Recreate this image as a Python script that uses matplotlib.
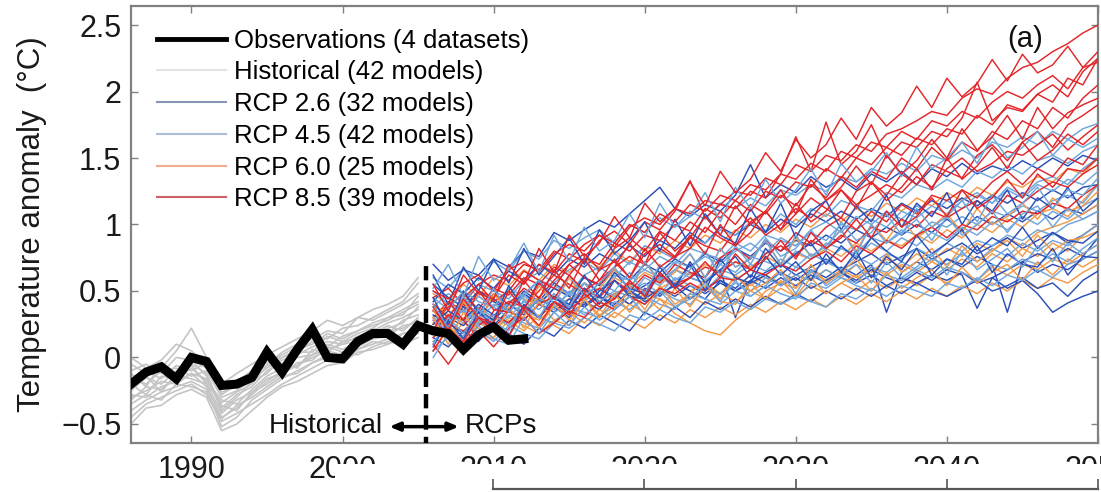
import matplotlib
matplotlib.use("Agg")
import matplotlib.pyplot as plt
from matplotlib.lines import Line2D
from matplotlib.patches import Rectangle

plt.rcParams['font.family'] = ['Liberation Sans', 'DejaVu Sans']

# ---------------- data ----------------
obs_years = list(range(1986, 2013))
obs_values = [-0.20, -0.11, -0.07, -0.16, 0.00, -0.03, -0.21, -0.20, -0.15, 0.04,
              -0.11, 0.06, 0.21, 0.00, -0.01, 0.12, 0.18, 0.18, 0.10, 0.24,
              0.20, 0.18, 0.06, 0.17, 0.23, 0.13, 0.14]

hist_years = list(range(1986, 2006))
hist_runs = [
    [-0.30, -0.25, -0.18, -0.20, -0.12, -0.22, -0.45, -0.38, -0.28, -0.18, -0.10, -0.06, 0.00, 0.05, 0.02, 0.10, 0.15, 0.20, 0.22, 0.28],
    [-0.15, -0.20, -0.10, -0.08, -0.14, -0.10, -0.30, -0.25, -0.16, -0.08, -0.02, 0.02, 0.08, 0.12, 0.10, 0.16, 0.20, 0.26, 0.30, 0.36],
    [-0.40, -0.32, -0.26, -0.22, -0.18, -0.24, -0.52, -0.45, -0.32, -0.24, -0.16, -0.10, -0.04, 0.00, -0.02, 0.06, 0.10, 0.14, 0.18, 0.22],
    [-0.05, -0.12, -0.08, 0.05, 0.22, 0.00, -0.22, -0.18, -0.10, -0.04, 0.02, 0.08, 0.14, 0.20, 0.18, 0.30, 0.28, 0.34, 0.40, 0.48],
    [-0.25, -0.15, -0.20, -0.10, -0.05, -0.12, -0.38, -0.28, -0.22, -0.10, -0.04, -0.08, 0.06, 0.04, 0.12, 0.14, 0.22, 0.18, 0.28, 0.32],
    [-0.45, -0.35, -0.30, -0.25, -0.20, -0.28, -0.48, -0.42, -0.35, -0.28, -0.20, -0.14, -0.08, -0.02, 0.04, 0.02, 0.08, 0.12, 0.10, 0.15],
    [-0.20, -0.28, -0.14, -0.16, -0.08, -0.18, -0.32, -0.35, -0.24, -0.14, -0.08, 0.00, 0.02, 0.10, 0.06, 0.12, 0.18, 0.24, 0.20, 0.30],
    [-0.10, -0.05, -0.12, 0.00, -0.02, -0.08, -0.26, -0.22, -0.12, -0.06, 0.04, 0.10, 0.16, 0.14, 0.22, 0.24, 0.30, 0.36, 0.42, 0.56],
    [-0.32, -0.22, -0.24, -0.14, -0.16, -0.20, -0.42, -0.32, -0.26, -0.16, -0.12, -0.04, -0.02, 0.08, 0.04, 0.08, 0.14, 0.16, 0.24, 0.26],
    [-0.50, -0.38, -0.36, -0.28, -0.24, -0.30, -0.55, -0.50, -0.40, -0.30, -0.22, -0.18, -0.12, -0.06, -0.04, 0.04, 0.06, 0.10, 0.14, 0.18],
    [-0.18, -0.10, -0.16, -0.06, -0.10, -0.04, -0.28, -0.20, -0.14, -0.02, 0.00, 0.06, 0.10, 0.18, 0.14, 0.20, 0.26, 0.30, 0.36, 0.42],
    [-0.28, -0.30, -0.22, -0.18, -0.12, -0.16, -0.36, -0.40, -0.26, -0.20, -0.12, -0.06, 0.02, 0.06, 0.10, 0.12, 0.20, 0.22, 0.26, 0.38],
    [0.00, -0.08, -0.02, 0.10, 0.05, -0.05, -0.20, -0.12, -0.05, 0.02, 0.08, 0.14, 0.20, 0.28, 0.24, 0.30, 0.36, 0.40, 0.46, 0.60],
    [-0.35, -0.28, -0.32, -0.20, -0.22, -0.26, -0.46, -0.36, -0.30, -0.22, -0.14, -0.12, -0.04, 0.02, 0.00, 0.06, 0.12, 0.10, 0.18, 0.20],
    [-0.22, -0.14, -0.26, -0.12, -0.02, -0.14, -0.40, -0.30, -0.18, -0.12, 0.00, 0.04, 0.12, 0.08, 0.16, 0.20, 0.24, 0.28, 0.34, 0.40],
    [-0.12, -0.22, -0.05, -0.14, -0.06, -0.20, -0.34, -0.26, -0.20, -0.06, -0.06, 0.04, 0.04, 0.16, 0.12, 0.18, 0.22, 0.30, 0.32, 0.46],
]

rcp_years = list(range(2006, 2051))

rcp26_runs = [
    [0.70, 0.58, 0.66, 0.62, 0.74, 0.68, 0.80, 0.76, 0.94, 0.88, 0.96, 1.03, 0.98, 1.08, 1.18,
     1.28, 1.12, 1.06, 1.15, 1.10, 1.22, 1.45, 1.20, 1.30, 1.24, 1.36, 1.28, 1.34, 1.26, 1.38,
     1.32, 1.40, 1.30, 1.42, 1.36, 1.46, 1.38, 1.44, 1.40, 1.48, 1.42, 1.50, 1.44, 1.52, 1.48],
    [0.42, 0.55, 0.48, 0.60, 0.52, 0.65, 0.58, 0.70, 0.62, 0.74, 0.68, 0.78, 0.72, 0.84, 0.76,
     0.88, 0.82, 0.94, 0.86, 0.98, 0.92, 1.00, 0.94, 1.04, 0.98, 1.08, 1.02, 1.10, 1.04, 1.12,
     1.06, 1.16, 1.10, 1.18, 1.12, 1.20, 1.14, 1.22, 1.16, 1.24, 1.18, 1.26, 1.20, 1.28, 1.30],
    [0.32, 0.25, 0.38, 0.30, 0.44, 0.36, 0.50, 0.42, 0.56, 0.48, 0.60, 0.54, 0.66, 0.58, 0.70,
     0.64, 0.74, 0.68, 0.78, 0.72, 0.82, 0.76, 0.86, 0.80, 0.88, 0.84, 0.92, 0.86, 0.96, 0.90,
     0.98, 0.92, 1.00, 0.94, 1.04, 0.96, 1.06, 1.00, 1.08, 1.02, 1.10, 1.04, 1.12, 1.08, 1.15],
    [0.55, 0.45, 0.38, 0.50, 0.42, 0.35, 0.48, 0.40, 0.52, 0.46, 0.38, 0.50, 0.58, 0.48, 0.54,
     0.62, 0.52, 0.60, 0.56, 0.66, 0.30, 0.58, 0.64, 0.70, 0.62, 0.68, 0.74, 0.66, 0.72, 0.78,
     0.70, 0.76, 0.82, 0.74, 0.80, 0.86, 0.78, 0.84, 0.90, 0.82, 0.88, 0.94, 0.86, 0.92, 1.00],
    [0.20, 0.30, 0.24, 0.36, 0.28, 0.40, 0.32, 0.44, 0.38, 0.30, 0.42, 0.36, 0.48, 0.40, 0.52,
     0.46, 0.56, 0.50, 0.44, 0.58, 0.52, 0.62, 0.56, 0.64, 0.58, 0.66, 0.60, 0.68, 0.62, 0.70,
     0.34, 0.64, 0.72, 0.66, 0.74, 0.68, 0.76, 0.70, 0.34, 0.72, 0.78, 0.74, 0.82, 0.76, 0.90],
    [0.35, 0.26, 0.18, 0.30, 0.24, 0.36, 0.28, 0.40, 0.34, 0.44, 0.38, 0.46, 0.40, 0.50, 0.44,
     0.52, 0.46, 0.54, 0.48, 0.56, 0.50, 0.58, 0.52, 0.60, 0.54, 0.62, 0.56, 0.64, 0.58, 0.66,
     0.60, 0.56, 0.64, 0.58, 0.66, 0.62, 0.37, 0.60, 0.66, 0.72, 0.64, 0.70, 0.66, 0.74, 0.80],
    [0.15, 0.08, 0.20, 0.12, 0.25, 0.18, 0.10, 0.22, 0.16, 0.28, 0.22, 0.32, 0.26, 0.20, 0.34,
     0.28, 0.38, 0.30, 0.42, 0.36, 0.44, 0.38, 0.46, 0.40, 0.48, 0.42, 0.50, 0.44, 0.52, 0.46,
     0.54, 0.48, 0.56, 0.50, 0.46, 0.52, 0.58, 0.50, 0.54, 0.60, 0.52, 0.56, 0.46, 0.58, 0.65],
    [0.25, 0.35, 0.28, 0.40, 0.32, 0.26, 0.38, 0.30, 0.42, 0.34, 0.40, 0.46, 0.38, 0.50, 0.42,
     0.48, 0.54, 0.44, 0.52, 0.58, 0.50, 0.56, 0.62, 0.54, 0.60, 0.52, 0.58, 0.64, 0.56, 0.62,
     0.54, 0.60, 0.56, 0.62, 0.58, 0.64, 0.56, 0.60, 0.52, 0.58, 0.48, 0.34, 0.41, 0.46, 0.50],
    [0.62, 0.40, 0.68, 0.50, 0.74, 0.56, 0.82, 0.62, 0.76, 0.90, 0.70, 0.96, 0.78, 0.88, 1.02,
     0.80, 1.04, 0.84, 1.08, 0.92, 0.86, 1.12, 0.94, 1.16, 0.90, 1.10, 1.18, 0.96, 1.14, 1.02,
     1.22, 0.98, 1.16, 1.06, 1.24, 1.00, 1.18, 1.10, 1.26, 1.04, 1.20, 1.12, 1.28, 1.10, 1.20],
    [0.08, 0.28, 0.14, 0.34, 0.24, 0.16, 0.40, 0.30, 0.46, 0.36, 0.52, 0.40, 0.58, 0.46, 0.44,
     0.64, 0.52, 0.72, 0.56, 0.66, 0.76, 0.60, 0.82, 0.68, 0.78, 0.86, 0.70, 0.84, 0.74, 0.90,
     0.80, 0.72, 0.92, 0.78, 0.86, 0.96, 0.80, 0.90, 0.84, 0.98, 0.82, 0.94, 0.88, 0.86, 0.95],
    [0.45, 0.22, 0.50, 0.34, 0.28, 0.54, 0.36, 0.58, 0.44, 0.40, 0.62, 0.46, 0.64, 0.52, 0.48,
     0.68, 0.54, 0.70, 0.50, 0.74, 0.60, 0.56, 0.76, 0.62, 0.72, 0.58, 0.78, 0.64, 0.80, 0.60,
     0.76, 0.66, 0.82, 0.62, 0.74, 0.70, 0.84, 0.64, 0.78, 0.70, 0.68, 0.82, 0.62, 0.76, 0.75],
]

rcp45_runs = [
    [0.60, 0.52, 0.66, 0.58, 0.72, 0.65, 0.80, 0.74, 0.88, 0.82, 0.90, 0.96, 0.86, 1.00, 0.94,
     1.05, 0.98, 1.10, 1.04, 1.16, 1.12, 1.20, 1.14, 1.26, 1.22, 1.30, 1.25, 1.36, 1.32, 1.42,
     1.38, 1.46, 1.40, 1.52, 1.48, 1.56, 1.50, 1.62, 1.58, 1.66, 1.60, 1.70, 1.64, 1.72, 1.76],
    [0.38, 0.48, 0.42, 0.55, 0.50, 0.44, 0.58, 0.64, 0.56, 0.66, 0.72, 0.65, 0.78, 0.70, 0.84,
     0.80, 0.74, 0.90, 0.86, 0.96, 0.92, 1.02, 0.95, 1.08, 1.00, 1.12, 1.06, 1.18, 1.14, 1.10,
     1.24, 1.20, 1.30, 1.26, 1.34, 1.28, 1.40, 1.35, 1.44, 1.38, 1.48, 1.52, 1.46, 1.55, 1.60],
    [0.22, 0.32, 0.26, 0.38, 0.30, 0.42, 0.48, 0.40, 0.52, 0.46, 0.56, 0.50, 0.62, 0.58, 0.66,
     0.60, 0.72, 0.68, 0.76, 0.70, 0.80, 0.86, 0.78, 0.90, 0.84, 0.94, 0.88, 1.00, 0.96, 1.04,
     0.98, 1.10, 1.05, 1.14, 1.08, 1.18, 1.24, 1.16, 1.28, 1.22, 1.32, 1.36, 1.30, 1.42, 1.50],
    [0.45, 0.36, 0.50, 0.42, 0.38, 0.52, 0.46, 0.58, 0.54, 0.48, 0.62, 0.68, 0.60, 0.72, 0.66,
     0.76, 0.70, 0.82, 0.78, 0.74, 0.86, 0.80, 0.92, 0.88, 0.84, 0.96, 1.02, 0.94, 1.06, 1.00,
     1.10, 1.04, 1.14, 1.08, 1.18, 1.12, 1.22, 1.16, 1.26, 1.20, 1.30, 1.25, 1.34, 1.30, 1.40],
    [0.30, 0.24, 0.36, 0.28, 0.40, 0.34, 0.46, 0.40, 0.36, 0.50, 0.44, 0.56, 0.50, 0.46, 0.60,
     0.54, 0.66, 0.60, 0.56, 0.70, 0.64, 0.76, 0.72, 0.68, 0.80, 0.74, 0.86, 0.82, 0.78, 0.90,
     0.86, 0.96, 0.92, 1.02, 0.98, 1.06, 1.00, 1.10, 1.06, 1.14, 1.10, 1.18, 1.22, 1.16, 1.30],
    [0.18, 0.28, 0.35, 0.25, 0.32, 0.40, 0.34, 0.44, 0.38, 0.48, 0.42, 0.52, 0.46, 0.56, 0.50,
     0.60, 0.54, 0.64, 0.58, 0.66, 0.62, 0.70, 0.65, 0.74, 0.68, 0.78, 0.72, 0.82, 0.76, 0.86,
     0.80, 0.90, 0.84, 0.94, 0.88, 0.98, 0.92, 1.02, 0.96, 1.06, 1.00, 1.10, 1.04, 1.14, 1.20],
    [0.50, 0.40, 0.34, 0.46, 0.38, 0.30, 0.42, 0.36, 0.48, 0.40, 0.52, 0.45, 0.38, 0.50, 0.56,
     0.48, 0.60, 0.54, 0.50, 0.62, 0.58, 0.66, 0.60, 0.55, 0.68, 0.64, 0.72, 0.66, 0.76, 0.70,
     0.78, 0.74, 0.82, 0.76, 0.86, 0.80, 0.88, 0.84, 0.92, 0.88, 0.96, 0.92, 1.00, 1.04, 1.10],
    [0.12, 0.22, 0.16, 0.28, 0.20, 0.32, 0.26, 0.22, 0.34, 0.40, 0.32, 0.42, 0.36, 0.46, 0.40,
     0.50, 0.44, 0.40, 0.52, 0.48, 0.56, 0.50, 0.60, 0.54, 0.62, 0.58, 0.66, 0.60, 0.56, 0.68,
     0.64, 0.72, 0.66, 0.74, 0.70, 0.78, 0.72, 0.82, 0.76, 0.86, 0.80, 0.88, 0.84, 0.92, 1.00],
    [0.28, 0.20, 0.14, 0.26, 0.32, 0.24, 0.36, 0.30, 0.26, 0.38, 0.34, 0.30, 0.42, 0.36, 0.46,
     0.40, 0.36, 0.48, 0.44, 0.40, 0.50, 0.46, 0.54, 0.48, 0.44, 0.56, 0.52, 0.60, 0.54, 0.50,
     0.62, 0.58, 0.66, 0.60, 0.68, 0.64, 0.58, 0.70, 0.66, 0.74, 0.70, 0.78, 0.72, 0.82, 0.90],
    [0.05, 0.15, 0.08, 0.20, 0.12, 0.24, 0.18, 0.14, 0.26, 0.22, 0.30, 0.25, 0.20, 0.32, 0.28,
     0.36, 0.30, 0.26, 0.38, 0.34, 0.42, 0.36, 0.44, 0.40, 0.46, 0.42, 0.38, 0.48, 0.44, 0.52,
     0.46, 0.54, 0.50, 0.46, 0.56, 0.52, 0.60, 0.54, 0.62, 0.58, 0.66, 0.60, 0.70, 0.74, 0.80],
    [0.52, 0.70, 0.46, 0.76, 0.58, 0.66, 0.86, 0.64, 0.92, 0.72, 0.98, 0.80, 0.88, 1.08, 0.90,
     1.16, 0.98, 1.06, 1.24, 1.02, 1.28, 1.12, 1.34, 1.16, 1.26, 1.42, 1.22, 1.46, 1.32, 1.40,
     1.54, 1.36, 1.58, 1.42, 1.50, 1.62, 1.46, 1.66, 1.50, 1.58, 1.70, 1.52, 1.64, 1.58, 1.65],
    [0.10, 0.30, 0.18, 0.36, 0.26, 0.20, 0.44, 0.30, 0.48, 0.38, 0.56, 0.42, 0.50, 0.64, 0.48,
     0.70, 0.58, 0.66, 0.80, 0.62, 0.84, 0.70, 0.90, 0.76, 0.82, 0.96, 0.80, 1.02, 0.88, 0.94,
     1.08, 0.92, 1.12, 0.98, 1.06, 1.18, 1.02, 1.22, 1.08, 1.16, 1.28, 1.12, 1.26, 1.22, 1.35],
    [0.40, 0.22, 0.46, 0.30, 0.52, 0.34, 0.48, 0.58, 0.40, 0.62, 0.46, 0.56, 0.68, 0.50, 0.72,
     0.58, 0.66, 0.78, 0.60, 0.82, 0.68, 0.74, 0.88, 0.70, 0.92, 0.76, 0.84, 0.96, 0.78, 1.00,
     0.86, 0.94, 1.04, 0.88, 1.06, 0.92, 1.00, 1.10, 0.94, 1.08, 1.14, 0.98, 1.12, 1.04, 1.10],
    [0.00, 0.18, 0.06, 0.24, 0.14, 0.10, 0.30, 0.18, 0.34, 0.24, 0.38, 0.28, 0.36, 0.46, 0.32,
     0.50, 0.38, 0.44, 0.56, 0.42, 0.58, 0.46, 0.54, 0.64, 0.48, 0.66, 0.54, 0.62, 0.70, 0.56,
     0.72, 0.60, 0.68, 0.78, 0.62, 0.80, 0.66, 0.74, 0.82, 0.68, 0.84, 0.72, 0.86, 0.78, 0.85],
]

rcp60_runs = [
    [0.48, 0.40, 0.55, 0.46, 0.60, 0.54, 0.66, 0.58, 0.70, 0.64, 0.74, 0.68, 0.80, 0.72, 0.84,
     0.78, 0.88, 0.82, 0.92, 0.86, 0.96, 0.90, 1.00, 0.94, 1.04, 0.98, 1.08, 1.02, 1.12, 1.06,
     1.16, 1.10, 1.20, 1.14, 1.24, 1.18, 1.28, 1.22, 1.32, 1.28, 1.36, 1.32, 1.42, 1.38, 1.50],
    [0.30, 0.40, 0.34, 0.46, 0.38, 0.50, 0.44, 0.40, 0.52, 0.48, 0.56, 0.50, 0.60, 0.54, 0.64,
     0.58, 0.66, 0.62, 0.70, 0.64, 0.72, 0.68, 0.76, 0.70, 0.78, 0.74, 0.82, 0.76, 0.86, 0.80,
     0.88, 0.84, 0.92, 0.86, 0.96, 0.90, 1.00, 0.94, 1.04, 0.98, 1.08, 1.12, 1.06, 1.18, 1.30],
    [0.22, 0.14, 0.26, 0.18, 0.30, 0.24, 0.34, 0.28, 0.38, 0.32, 0.42, 0.36, 0.46, 0.40, 0.48,
     0.44, 0.33, 0.26, 0.20, 0.17, 0.28, 0.37, 0.50, 0.56, 0.62, 0.58, 0.66, 0.60, 0.70, 0.64,
     0.74, 0.68, 0.78, 0.72, 0.82, 0.76, 0.86, 0.80, 0.90, 0.84, 0.94, 0.98, 1.02, 1.08, 1.15],
    [0.40, 0.32, 0.44, 0.36, 0.28, 0.40, 0.34, 0.46, 0.38, 0.44, 0.50, 0.42, 0.48, 0.54, 0.46,
     0.52, 0.58, 0.50, 0.56, 0.48, 0.60, 0.54, 0.62, 0.56, 0.52, 0.64, 0.58, 0.66, 0.60, 0.68,
     0.62, 0.70, 0.64, 0.72, 0.66, 0.74, 0.68, 0.78, 0.72, 0.82, 0.76, 0.86, 0.80, 0.92, 1.00],
    [0.12, 0.22, 0.16, 0.26, 0.20, 0.30, 0.24, 0.18, 0.28, 0.34, 0.26, 0.36, 0.30, 0.40, 0.34,
     0.44, 0.38, 0.46, 0.40, 0.48, 0.42, 0.50, 0.44, 0.52, 0.46, 0.54, 0.48, 0.56, 0.50, 0.58,
     0.52, 0.60, 0.54, 0.62, 0.56, 0.64, 0.58, 0.68, 0.62, 0.70, 0.66, 0.74, 0.70, 0.78, 0.85],
    [0.26, 0.18, 0.30, 0.22, 0.15, 0.28, 0.20, 0.32, 0.24, 0.18, 0.30, 0.24, 0.34, 0.28, 0.22,
     0.32, 0.26, 0.36, 0.30, 0.38, 0.32, 0.40, 0.34, 0.42, 0.36, 0.44, 0.38, 0.46, 0.40, 0.48,
     0.42, 0.50, 0.44, 0.52, 0.46, 0.54, 0.48, 0.56, 0.50, 0.58, 0.52, 0.60, 0.56, 0.64, 0.70],
    [0.36, 0.18, 0.42, 0.26, 0.48, 0.34, 0.30, 0.54, 0.40, 0.60, 0.44, 0.52, 0.66, 0.50, 0.72,
     0.56, 0.64, 0.78, 0.60, 0.82, 0.68, 0.74, 0.88, 0.70, 0.90, 0.76, 0.84, 0.96, 0.80, 1.00,
     0.88, 1.04, 0.90, 0.98, 1.08, 0.94, 1.12, 1.00, 1.06, 1.16, 1.04, 1.20, 1.10, 1.14, 1.25],
    [0.05, 0.24, 0.12, 0.30, 0.20, 0.16, 0.36, 0.22, 0.40, 0.28, 0.44, 0.32, 0.38, 0.50, 0.36,
     0.54, 0.40, 0.48, 0.58, 0.44, 0.62, 0.50, 0.56, 0.66, 0.52, 0.70, 0.56, 0.64, 0.74, 0.60,
     0.78, 0.64, 0.72, 0.82, 0.68, 0.84, 0.72, 0.80, 0.88, 0.76, 0.92, 0.80, 0.88, 0.90, 0.95],
    [0.30, 0.10, 0.34, 0.18, 0.14, 0.38, 0.22, 0.42, 0.28, 0.24, 0.44, 0.30, 0.48, 0.34, 0.46,
     0.36, 0.52, 0.38, 0.54, 0.42, 0.40, 0.56, 0.44, 0.58, 0.46, 0.60, 0.48, 0.56, 0.62, 0.50,
     0.64, 0.52, 0.60, 0.66, 0.54, 0.68, 0.56, 0.64, 0.70, 0.58, 0.72, 0.62, 0.74, 0.68, 0.75],
]

rcp85_runs = [
    [0.45, 0.52, 0.40, 0.55, 0.62, 0.58, 0.70, 0.66, 0.80, 0.74, 0.85, 0.92, 0.83, 0.98, 1.05,
     1.00, 1.12, 1.08, 1.18, 1.15, 1.25, 1.22, 1.35, 1.30, 1.45, 1.40, 1.52, 1.48, 1.60, 1.55,
     1.68, 1.72, 1.78, 1.85, 1.82, 1.95, 2.02, 1.98, 2.10, 2.18, 2.22, 2.30, 2.36, 2.44, 2.50],
    [0.30, 0.42, 0.35, 0.50, 0.45, 0.62, 0.55, 0.70, 0.64, 0.78, 0.72, 0.88, 0.95, 0.85, 1.02,
     0.96, 1.10, 1.33, 1.05, 1.15, 1.12, 1.25, 1.20, 1.38, 1.66, 1.40, 1.77, 1.45, 1.55, 1.75,
     1.50, 1.62, 1.58, 1.70, 1.66, 1.80, 2.07, 1.78, 1.88, 1.85, 1.98, 1.92, 2.10, 2.05, 2.25],
    [0.25, 0.38, 0.48, 0.36, 0.52, 0.47, 0.60, 0.55, 0.68, 0.62, 0.75, 0.70, 0.86, 0.80, 0.92,
     0.88, 1.00, 0.95, 1.12, 1.05, 1.18, 1.10, 1.25, 1.20, 1.32, 1.28, 1.42, 1.35, 1.50, 1.45,
     1.58, 1.52, 1.65, 1.60, 1.72, 1.68, 1.82, 1.75, 1.90, 1.86, 1.98, 2.05, 1.96, 2.15, 2.25],
    [0.40, 0.30, 0.45, 0.55, 0.42, 0.50, 0.65, 0.58, 0.52, 0.70, 0.78, 0.66, 0.82, 0.90, 0.80,
     0.95, 0.88, 1.02, 0.94, 1.10, 1.00, 1.15, 1.08, 1.22, 1.14, 1.30, 1.20, 1.36, 1.28, 1.40,
     1.34, 1.50, 1.42, 1.58, 1.48, 1.62, 1.55, 1.70, 1.64, 1.78, 1.72, 1.88, 1.80, 1.95, 2.05],
    [0.20, 0.32, 0.28, 0.15, 0.35, 0.42, 0.38, 0.50, 0.62, 0.55, 0.48, 0.66, 0.72, 0.60, 0.78,
     0.85, 0.76, 0.82, 0.98, 0.90, 0.84, 1.02, 1.10, 0.96, 1.08, 1.20, 1.12, 1.05, 1.25, 1.32,
     1.22, 1.38, 1.30, 1.45, 1.40, 1.35, 1.52, 1.60, 1.48, 1.62, 1.70, 1.58, 1.75, 1.82, 1.90],
    [0.35, 0.28, 0.40, 0.33, 0.48, 0.40, 0.52, 0.45, 0.58, 0.70, 0.60, 0.55, 0.68, 0.76, 0.70,
     0.82, 0.75, 0.90, 0.84, 0.80, 0.95, 1.05, 0.92, 1.00, 1.12, 1.05, 1.18, 1.26, 1.15, 1.22,
     1.30, 1.24, 1.36, 1.28, 1.42, 1.50, 1.40, 1.46, 1.55, 1.52, 1.60, 1.68, 1.56, 1.66, 1.75],
    [0.15, 0.25, 0.20, 0.30, 0.22, 0.35, 0.28, 0.40, 0.46, 0.38, 0.52, 0.45, 0.58, 0.50, 0.62,
     0.56, 0.70, 0.64, 0.60, 0.75, 0.82, 0.74, 0.88, 0.80, 0.94, 0.86, 0.98, 1.05, 0.96, 1.10,
     1.02, 1.15, 1.08, 1.22, 1.18, 1.26, 1.20, 1.32, 1.40, 1.30, 1.42, 1.36, 1.50, 1.45, 1.60],
    [0.28, 0.18, 0.10, 0.24, 0.32, 0.26, 0.38, 0.30, 0.42, 0.36, 0.45, 0.52, 0.44, 0.56, 0.50,
     0.62, 0.55, 0.60, 0.68, 0.64, 0.72, 0.66, 0.78, 0.84, 0.76, 0.88, 0.82, 0.92, 0.86, 0.98,
     0.94, 1.04, 0.98, 1.10, 1.05, 1.12, 1.18, 1.08, 1.22, 1.16, 1.25, 1.32, 1.28, 1.38, 1.45],
    [0.50, 0.44, 0.56, 0.62, 0.50, 0.66, 0.72, 0.64, 0.78, 0.85, 0.80, 0.92, 0.86, 1.00, 0.94,
     1.08, 1.02, 1.15, 1.10, 1.22, 1.18, 1.30, 1.26, 1.38, 1.34, 1.46, 1.40, 1.55, 1.50, 1.62,
     1.58, 1.70, 1.64, 1.78, 1.74, 1.85, 1.80, 1.92, 2.00, 1.95, 2.05, 2.12, 2.02, 2.18, 2.22],
    [0.10, -0.05, 0.12, 0.20, 0.08, 0.22, 0.30, 0.18, 0.26, 0.35, 0.30, 0.42, 0.36, 0.46, 0.40,
     0.52, 0.48, 0.56, 0.50, 0.60, 0.58, 0.66, 0.62, 0.70, 0.65, 0.74, 0.80, 0.72, 0.84, 0.78,
     0.88, 0.82, 0.92, 0.98, 0.90, 1.00, 0.96, 1.06, 1.02, 1.10, 1.08, 1.16, 1.12, 1.22, 1.30],
    [0.55, 0.35, 0.62, 0.48, 0.44, 0.70, 0.56, 0.82, 0.64, 0.92, 0.76, 0.86, 1.06, 0.90, 1.16,
     1.02, 1.12, 1.32, 1.14, 1.40, 1.24, 1.34, 1.54, 1.40, 1.64, 1.50, 1.60, 1.80, 1.64, 1.88,
     1.74, 1.84, 2.04, 1.88, 2.10, 1.96, 2.06, 2.24, 2.08, 2.28, 2.14, 2.20, 2.34, 2.18, 2.30],
    [0.20, 0.42, 0.28, 0.50, 0.36, 0.34, 0.58, 0.44, 0.66, 0.52, 0.74, 0.58, 0.68, 0.86, 0.70,
     0.94, 0.80, 0.90, 1.06, 0.92, 1.14, 1.00, 1.10, 1.26, 1.08, 1.34, 1.18, 1.28, 1.44, 1.30,
     1.52, 1.38, 1.48, 1.64, 1.50, 1.72, 1.56, 1.66, 1.82, 1.64, 1.88, 1.72, 1.84, 1.90, 1.95],
    [0.38, 0.20, 0.44, 0.30, 0.26, 0.50, 0.36, 0.56, 0.44, 0.62, 0.50, 0.58, 0.74, 0.60, 0.82,
     0.68, 0.76, 0.92, 0.78, 1.00, 0.84, 0.94, 1.10, 0.96, 1.16, 1.02, 1.10, 1.26, 1.12, 1.32,
     1.18, 1.28, 1.42, 1.26, 1.50, 1.34, 1.44, 1.58, 1.42, 1.62, 1.48, 1.56, 1.68, 1.60, 1.70],
    [0.05, 0.22, 0.12, 0.30, 0.20, 0.16, 0.36, 0.24, 0.42, 0.32, 0.48, 0.38, 0.44, 0.58, 0.46,
     0.64, 0.52, 0.60, 0.72, 0.60, 0.78, 0.66, 0.74, 0.88, 0.74, 0.94, 0.82, 0.90, 1.04, 0.90,
     1.10, 0.98, 1.06, 1.20, 1.06, 1.26, 1.12, 1.20, 1.34, 1.20, 1.38, 1.28, 1.42, 1.40, 1.50],
]

legend_labels = ["Observations (4 datasets)", "Historical (42 models)", "RCP 2.6 (32 models)",
                 "RCP 4.5 (42 models)", "RCP 6.0 (25 models)", "RCP 8.5 (39 models)"]
xticks = [1990, 2000, 2010, 2020, 2030, 2040, 2050]
xtick_labels = ["1990", "2000", "2010", "2020", "2030", "2040", "2050"]
yticks = [-0.5, 0, 0.5, 1, 1.5, 2, 2.5]
ytick_labels = ["\u22120.5", "0", "0.5", "1", "1.5", "2", "2.5"]
boundary_year = 2005.5

# ---------------- styling ----------------
c_hist = "#c4c4c4"
c26 = "#2b4fb8"
c45 = "#6fa6dc"
c60 = "#f39a4a"
c85 = "#e3262a"
spine_c = "#808080"

W, H = 1101, 492
fig = plt.figure(figsize=(W / 100, H / 100), dpi=100)
ax = fig.add_axes([131 / W, 1 - 443 / H, (1098 - 131) / W, (443 - 6) / H])

for run in hist_runs:
    ax.plot(hist_years, run, color=c_hist, lw=1.2, zorder=2)

groups = [(rcp26_runs, c26), (rcp45_runs, c45), (rcp60_runs, c60), (rcp85_runs, c85)]
nmax = max(len(g[0]) for g in groups)
for i in range(nmax):
    for runs, col in groups:
        if i < len(runs):
            ax.plot(rcp_years, runs[i], color=col, lw=1.05, zorder=3)

ax.plot(obs_years, obs_values, color="black", lw=6.5, solid_joinstyle="miter", zorder=5)

ax.plot([boundary_year, boundary_year], [-0.7, 0.73], color="black", lw=3.2,
        dashes=(3.2, 1.6), zorder=6)

ax.annotate("", xy=(2007.7, -0.52), xytext=(2003.1, -0.52),
            arrowprops=dict(arrowstyle="<|-|>,head_length=0.6,head_width=0.25",
                            color="black", lw=2.5, shrinkA=0, shrinkB=0), zorder=6)
ax.text(2002.7, -0.515, "Historical", ha="right", va="center", fontsize=20, color="#111111")
ax.text(2008.1, -0.515, "RCPs", ha="left", va="center", fontsize=20, color="#111111")
ax.text(0.925, 0.925, "(a)", transform=ax.transAxes, ha="center", va="center",
        fontsize=21, color="#111111")

ax.set_xlim(1986, 2050)
ax.set_ylim(-0.643, 2.643)
ax.set_xticks(xticks)
ax.set_xticklabels(xtick_labels)
ax.set_yticks(yticks)
ax.set_yticklabels(ytick_labels)
ax.tick_params(direction="in", length=5, width=1, colors=spine_c, top=True, right=True,
               labelsize=22, labelcolor="#1a1a1a")
ax.tick_params(axis="x", pad=9)
ax.tick_params(axis="y", pad=7)
for s in ax.spines.values():
    s.set_color(spine_c)
    s.set_linewidth(1.6)
ax.set_ylabel("Temperature anomaly  (\u00b0C)", fontsize=22.5, color="#1a1a1a", labelpad=10)

handles = [Line2D([], [], color="black", lw=3.5),
           Line2D([], [], color="#e4e4e4", lw=1.5),
           Line2D([], [], color="#8794b3", lw=1.5),
           Line2D([], [], color="#adbdd6", lw=1.5),
           Line2D([], [], color="#f2ab8c", lw=1.5),
           Line2D([], [], color="#cc6266", lw=1.5)]
ax.legend(handles, legend_labels, loc="upper left", bbox_to_anchor=(0.027, 0.948),
          frameon=False, fontsize=18.5, handlelength=2.7, handletextpad=0.3,
          labelspacing=0.3, borderpad=0, borderaxespad=0)

# white cover over the lower part of the tick labels, and the top edge of the next panel
fig.patches.append(Rectangle((335 / W, 0), 1 - 335 / W, (H - 464) / H,
                             transform=fig.transFigure, facecolor="white",
                             edgecolor="none", zorder=10))
ax2 = fig.add_axes([493 / W, 1 - 489 / H, (1098 - 493) / W, 0.001], zorder=11)
ax2.set_xlim(2010, 2050)
ax2.set_xticks([2010, 2020, 2030, 2040, 2050])
ax2.set_yticks([])
ax2.patch.set_visible(False)
for k in ["left", "right", "bottom"]:
    ax2.spines[k].set_visible(False)
ax2.spines["top"].set_color("#555555")
ax2.spines["top"].set_linewidth(1.6)
ax2.tick_params(axis="x", top=True, bottom=False, labeltop=False, labelbottom=False,
                direction="out", length=7, width=1.2, colors="#555555")

fig.savefig("out.png", dpi=100)
